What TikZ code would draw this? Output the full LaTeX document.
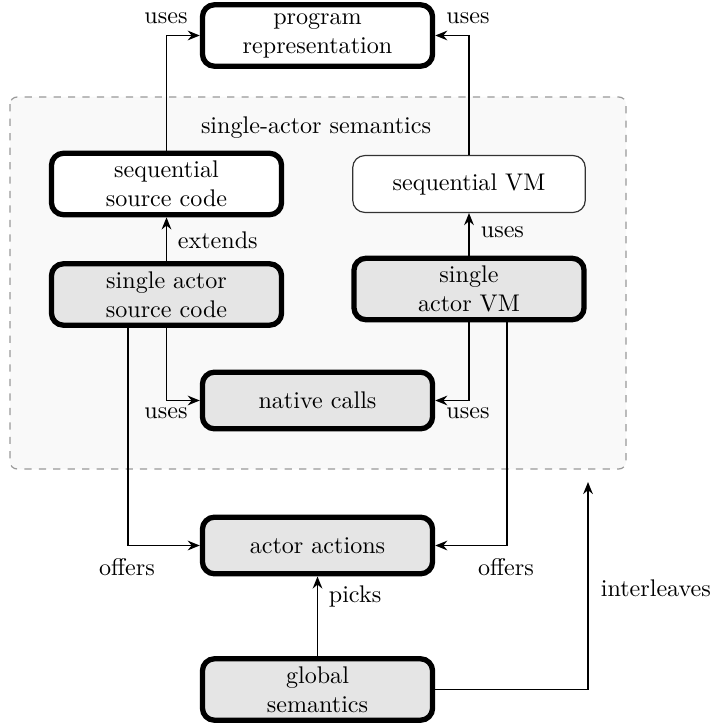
\documentclass[tikz,border=0pt]{standalone}
\usetikzlibrary{arrows.meta,calc}
\begin{document}
\begin{tikzpicture}[x=0.415pt,y=-0.415pt,
  box/.style={draw, line width=2.2pt, rounded corners=5pt, align=center,
    minimum width=95.5pt, inner sep=2pt},
  twoline/.style={box, minimum height=25.5pt},
  oneline/.style={box, minimum height=23.5pt},
  shaded/.style={fill=black!10},
  thinbox/.style={draw=black!80, line width=0.5pt, rounded corners=5pt, align=center,
    minimum width=96.5pt, minimum height=23.6pt, fill=white},
  conn/.style={line width=0.8pt, -{Stealth[length=5pt,width=4pt]}},
  lbl/.style={inner sep=1pt},
  region/.style={draw=black!40, dashed, fill=black!2.5, rounded corners=3pt, line width=0.5pt}
]
\useasboundingbox (0,0) rectangle (711,727);
\draw[region] (10,97) rectangle (626,469);
\node[lbl] (regionlbl) at (316,128) {single-actor semantics};

\node[twoline, fill=white] (prog) at (317.5,35.5) {program\\representation};
\node[twoline, fill=white] (seqsrc) at (166.5,184) {sequential\\source code};
\node[thinbox] (seqvm) at (469,184) {sequential VM};
\node[twoline, shaded] (sasrc) at (166.5,294.5) {single actor\\source code};
\node[twoline, shaded] (savm) at (469,289) {single\\actor VM};
\node[oneline, shaded] (native) at (317.5,400.5) {native calls};
\node[oneline, shaded] (actions) at (317.5,545.5) {actor actions};
\node[twoline, shaded] (global) at (317.5,689.5) {global\\semantics};
\coordinate (il) at (588,482);

\draw[conn] (seqsrc.north) |- (prog.west);
\draw[conn] (seqvm.north) |- (prog.east);
\draw[conn] (sasrc.north) -- (seqsrc.south);
\draw[conn] (savm.north) -- (seqvm.south);
\draw[conn] (sasrc.south) |- (native.west);
\draw[conn] (savm.south) |- (native.east);
\draw[conn] ($(sasrc.south)+(-38.5,0)$) |- (actions.west);
\draw[conn] ($(savm.south)+(38,0)$) |- (actions.east);
\draw[conn] (global.north) -- (actions.south);
\draw[conn] (global.east) -| (il);

\node[lbl] (l1) at (166,18) {uses};
\node[lbl] (l2) at (468,18) {uses};
\node[lbl, anchor=west] (l3) at (175,240) {extends};
\node[lbl, anchor=west] (l4) at (478,232) {uses};
\node[lbl] (l5) at (166,413) {uses};
\node[lbl] (l6) at (468,413) {uses};
\node[lbl] (l7) at (127,567) {offers};
\node[lbl] (l8) at (506,567) {offers};
\node[lbl, anchor=west] (l9) at (326,596) {picks};
\node[lbl, anchor=west] (l10) at (598,588) {interleaves};
\end{tikzpicture}
\end{document}
